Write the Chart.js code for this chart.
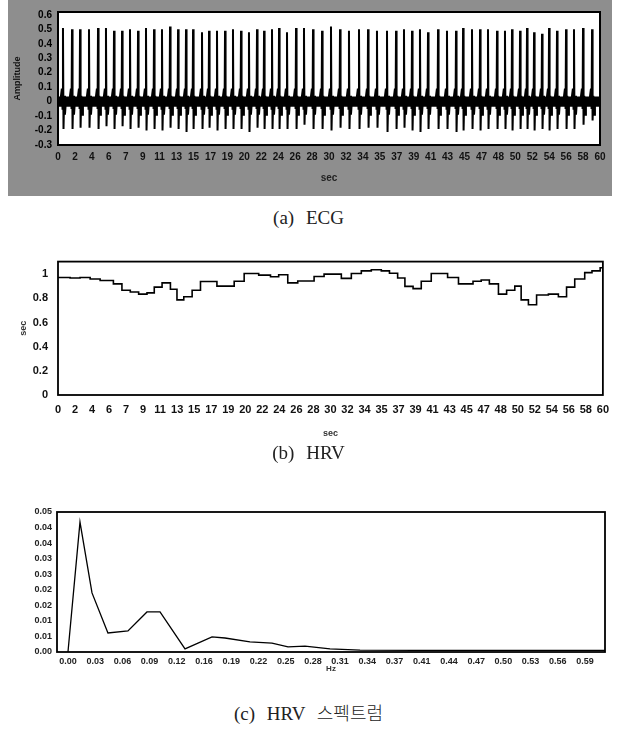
<!DOCTYPE html>
<html><head><meta charset="utf-8">
<script src="https://cdn.jsdelivr.net/npm/chart.js@4.4.1/dist/chart.umd.min.js"></script>
<style>
body{margin:0;background:#fff;width:617px;height:747px;position:relative;overflow:hidden}
canvas{position:absolute}
.cap{position:absolute;left:0;width:617px;text-align:center;font-size:19px;line-height:20px;word-spacing:7px;color:#222;font-family:"Liberation Serif","Noto Sans CJK KR",serif}
</style></head><body>
<canvas id="ca" width="604" height="196" style="left:8px;top:0"></canvas>
<div class="cap" style="top:208px">(a) ECG</div>
<canvas id="cb" width="617" height="202" style="left:0;top:245px"></canvas>
<div class="cap" style="top:443px">(b) HRV</div>
<canvas id="cc" width="617" height="181" style="left:0;top:495px"></canvas>
<div class="cap" style="top:702px">(c) HRV <span style="font-family:'Noto Sans CJK KR';font-weight:300;font-size:18px">스펙트럼</span></div>
<script>
// ---------- DATA ----------
// (a) ECG: R-peak times (sec), R amplitudes, S amplitudes
const ecgBeatTimes = [0.55,1.55,2.44,3.43,4.43,5.31,6.20,7.09,7.97,8.86,9.74,10.63,11.51,12.40,13.29,14.17,14.95,15.94,16.72,17.60,18.49,19.37,20.26,21.14,22.03,22.81,23.69,24.47,25.35,26.35,27.23,
  28.23,29.23,30.22,31.22,32.21,33.32,34.32,35.31,36.42,37.42,38.30,39.19,40.07,40.96,42.07,43.06,44.06,44.84,45.83,46.72,47.60,48.60,49.48,50.26,51.15,51.92,52.70,53.58,54.36,55.24,56.24,57.12,58.12,59.12];
const ecgRPeaks = [0.51,0.50,0.50,0.50,0.51,0.51,0.49,0.49,0.50,0.49,0.51,0.50,0.50,0.52,0.50,0.50,0.50,0.48,0.49,0.49,0.49,0.50,0.49,0.48,0.50,0.49,0.50,0.51,0.48,0.51,0.51,
  0.50,0.49,0.52,0.50,0.49,0.50,0.50,0.49,0.49,0.49,0.50,0.49,0.50,0.48,0.50,0.49,0.49,0.51,0.50,0.50,0.50,0.49,0.49,0.50,0.49,0.51,0.48,0.47,0.51,0.49,0.50,0.50,0.51,0.50];
const ecgSTroughs = [-0.19,-0.19,-0.18,-0.18,-0.19,-0.17,-0.19,-0.17,-0.19,-0.18,-0.20,-0.19,-0.20,-0.18,-0.19,-0.21,-0.19,-0.19,-0.18,-0.20,-0.19,-0.19,-0.19,-0.21,-0.18,-0.19,-0.19,-0.19,-0.19,-0.19,-0.16,
  -0.19,-0.19,-0.20,-0.18,-0.19,-0.19,-0.18,-0.18,-0.21,-0.19,-0.18,-0.20,-0.21,-0.19,-0.19,-0.19,-0.21,-0.20,-0.19,-0.20,-0.19,-0.19,-0.19,-0.20,-0.19,-0.19,-0.20,-0.19,-0.20,-0.19,-0.19,-0.19,-0.16,-0.13];
const ecgSmallWaves = [0.09,-0.05,0.04,-0.09];   // bumps around each QRS
const ecgNoiseBand = [0.035,-0.035];              // dense baseline band
const ecgYTicks = [-0.3,-0.2,-0.1,0,0.1,0.2,0.3,0.4,0.5,0.6];

// (b) HRV (RR interval, sec) step series
const hrvTimes = [0,1.33,2.43,3.54,4.64,6.1,7.04,7.96,8.88,9.8,10.6,11.46,12.38,13.1,13.85,14.77,15.69,17.5,19.4,20.5,22.1,23.4,24.3,25.3,26.4,28.2,29.3,31.2,32.3,33.4,34.5,35.6,36.5,37.4,38.2,39.1,40.0,41.1,42.9,44.1,45.7,46.6,47.5,48.5,49.4,50.3,51.0,51.8,52.7,54.0,55.1,56.0,56.9,58.0,58.8,59.7,60];
const hrvValues = [0.973,0.968,0.973,0.96,0.947,0.92,0.867,0.853,0.835,0.845,0.893,0.928,0.875,0.787,0.813,0.867,0.939,0.901,0.941,1.005,0.992,0.979,0.995,0.928,0.944,0.981,1.0,0.965,1.005,1.027,1.037,1.027,1.008,0.968,0.899,0.88,0.941,1.005,0.973,0.92,0.941,0.952,0.92,0.835,0.867,0.901,0.787,0.747,0.827,0.835,0.813,0.893,0.96,1.013,1.027,1.053,1.053];
const timeTickLabels = ["0","2","4","6","7","9","11","13","15","17","19","20","22","24","26","28","30","32","34","35","37","39","41","43","45","47","48","50","52","54","56","58","60"];
const hrvYTicks = [0,0.2,0.4,0.6,0.8,1];
const hrvYLabels = ["0","0.2","0.4","0.6","0.8","1"];

// (c) HRV spectrum
const psdFreq = [0,0.0138,0.0276,0.0459,0.0689,0.0907,0.1057,0.1344,0.1654,0.1803,0.209,0.2343,0.2527,0.2722,0.3009,0.3354,0.40,0.50,0.6167];
const psdValues = [0,0.0464,0.0211,0.0068,0.0075,0.0143,0.0143,0.0011,0.0054,0.0050,0.0036,0.0032,0.0018,0.0021,0.0011,0.0007,0.0006,0.0006,0.0006];
const freqTickLabels = ["0.00","0.03","0.06","0.09","0.12","0.16","0.19","0.22","0.25","0.28","0.31","0.34","0.37","0.41","0.44","0.47","0.50","0.53","0.56","0.59"];
const psdYLabels = ["0.00","0.01","0.01","0.02","0.02","0.03","0.03","0.04","0.04","0.05"];

// ---------- RENDER ----------
const frame = {
  id: 'frame',
  beforeDraw(chart, args, o) {
    const {ctx, chartArea: a} = chart;
    if (o.bg) {
      ctx.save(); ctx.fillStyle = o.bg; ctx.fillRect(0, 0, chart.width, chart.height);
      ctx.fillStyle = '#fff'; ctx.fillRect(a.left, a.top, a.right - a.left, a.bottom - a.top); ctx.restore();
    }
  },
  afterDraw(chart, args, o) {
    const {ctx, chartArea: a} = chart;
    ctx.save(); ctx.strokeStyle = '#000'; ctx.lineWidth = o.lw || 1.5;
    ctx.strokeRect(a.left, a.top, a.right - a.left, a.bottom - a.top); ctx.restore();
  }
};
Chart.defaults.font.family = '"Liberation Sans", Arial, sans-serif';
Chart.defaults.color = '#111';
const common = {responsive:false, animation:false, devicePixelRatio:1, events:[],
  plugins:{legend:{display:false}, tooltip:{enabled:false}}};
const noGrid = {display:false, drawTicks:false};
const timeTickVals = timeTickLabels.map((_, i) => i * 60 / (timeTickLabels.length - 1));

// (a)
const ecgPts = [];
ecgBeatTimes.forEach((t, i) => {
  ecgPts.push({x:t-0.3,y:0},{x:t-0.12,y:ecgSmallWaves[0]},{x:t-0.05,y:ecgSmallWaves[1]},{x:t,y:ecgRPeaks[i]},
    {x:t+0.06,y:ecgSTroughs[i]},{x:t+0.14,y:ecgSmallWaves[2]},{x:t+0.22,y:ecgSmallWaves[3]},{x:t+0.32,y:0});
});
new Chart(document.getElementById('ca'), {
  type:'line',
  data:{datasets:[
    {data:[{x:0,y:ecgNoiseBand[0]},{x:60,y:ecgNoiseBand[0]}], borderWidth:0, pointRadius:0, fill:'+1', backgroundColor:'#000'},
    {data:[{x:0,y:ecgNoiseBand[1]},{x:60,y:ecgNoiseBand[1]}], borderWidth:0, pointRadius:0, fill:false},
    {data:ecgPts, borderColor:'#000', borderWidth:2, pointRadius:0, tension:0, fill:false}
  ]},
  options:{...common,
    layout:{padding:{left:0,right:12,top:8,bottom:0}},
    plugins:{...common.plugins, frame:{bg:'#8e8e8e', lw:2}},
    scales:{
      x:{type:'linear', min:0, max:60, afterFit:s=>{s.height=51;},
        afterBuildTicks:s=>{s.ticks=timeTickVals.map(v=>({value:v}));},
        grid:noGrid, border:{display:false},
        ticks:{autoSkip:false, maxRotation:0, padding:6, font:{size:10,weight:'bold'}, color:'#111', callback:(v,i)=>timeTickLabels[i]},
        title:{display:true, text:'sec', font:{size:10,weight:'bold'}, color:'#222', padding:{top:2,bottom:12}}},
      y:{type:'linear', min:-0.3, max:0.62, afterFit:s=>{s.width=50;},
        afterBuildTicks:s=>{s.ticks=ecgYTicks.map(v=>({value:v}));},
        grid:noGrid, border:{display:false},
        ticks:{autoSkip:false, padding:6, font:{size:10,weight:'bold'}, color:'#000', callback:(v)=>String(Math.round(v*10)/10)},
        title:{display:true, text:'Amplitude', font:{size:9,weight:'bold'}, color:'#111', padding:{top:4,bottom:0}}}
    }},
  plugins:[frame]
});

// (b)
new Chart(document.getElementById('cb'), {
  type:'line',
  data:{datasets:[{data:hrvTimes.map((t,i)=>({x:t,y:hrvValues[i]})), stepped:'before', borderColor:'#000', borderWidth:1.6, pointRadius:0, fill:false}]},
  options:{...common,
    layout:{padding:{left:0,right:14,top:12,bottom:4}},
    plugins:{...common.plugins, frame:{lw:1.8}},
    scales:{
      x:{type:'linear', min:0, max:60, afterFit:s=>{s.height=48;},
        afterBuildTicks:s=>{s.ticks=timeTickVals.map(v=>({value:v}));},
        grid:noGrid, border:{display:false},
        ticks:{autoSkip:false, maxRotation:0, padding:8, font:{size:11,weight:'bold'}, color:'#111', callback:(v,i)=>timeTickLabels[i]},
        title:{display:true, text:'sec', font:{size:9,weight:'bold'}, color:'#333', padding:{top:6,bottom:4}}},
      y:{type:'linear', min:0, max:1.104, afterFit:s=>{s.width=58;},
        afterBuildTicks:s=>{s.ticks=hrvYTicks.map(v=>({value:v}));},
        grid:noGrid, border:{display:false},
        ticks:{autoSkip:false, padding:10, font:{size:11,weight:'bold'}, color:'#111', callback:(v,i)=>hrvYLabels[i]},
        title:{display:true, text:'sec', font:{size:9,weight:'bold'}, color:'#333', padding:{top:18,bottom:0}}}
    }},
  plugins:[frame]
});

// (c)
const freqTickVals = freqTickLabels.map((_, i) => i / 32);
const psdYTickVals = psdYLabels.map((_, i) => i * 0.05 / (psdYLabels.length - 1));
new Chart(document.getElementById('cc'), {
  type:'line',
  data:{datasets:[{data:psdFreq.map((f,i)=>({x:f,y:psdValues[i]})), borderColor:'#000', borderWidth:1.3, pointRadius:0, tension:0, fill:false}]},
  options:{...common,
    layout:{padding:{left:0,right:12,top:17,bottom:0}},
    plugins:{...common.plugins, frame:{lw:1.8}},
    scales:{
      x:{type:'linear', min:-0.0126, max:0.6167, afterFit:s=>{s.height=24;},
        afterBuildTicks:s=>{s.ticks=freqTickVals.map(v=>({value:v}));},
        grid:noGrid, border:{display:false},
        ticks:{autoSkip:false, maxRotation:0, padding:4, font:{size:9,weight:'bold'}, color:'#222', callback:(v,i)=>freqTickLabels[i]},
        title:{display:true, text:'Hz', font:{size:8,weight:'bold'}, color:'#333', padding:{top:0,bottom:2}}},
      y:{type:'linear', min:0, max:0.05, afterFit:s=>{s.width=57;},
        afterBuildTicks:s=>{s.ticks=psdYTickVals.map(v=>({value:v}));},
        grid:noGrid, border:{display:false},
        ticks:{autoSkip:false, padding:5, font:{size:9,weight:'bold'}, color:'#222', callback:(v,i)=>psdYLabels[i]}}
    }},
  plugins:[frame]
});
</script>
</body></html>
